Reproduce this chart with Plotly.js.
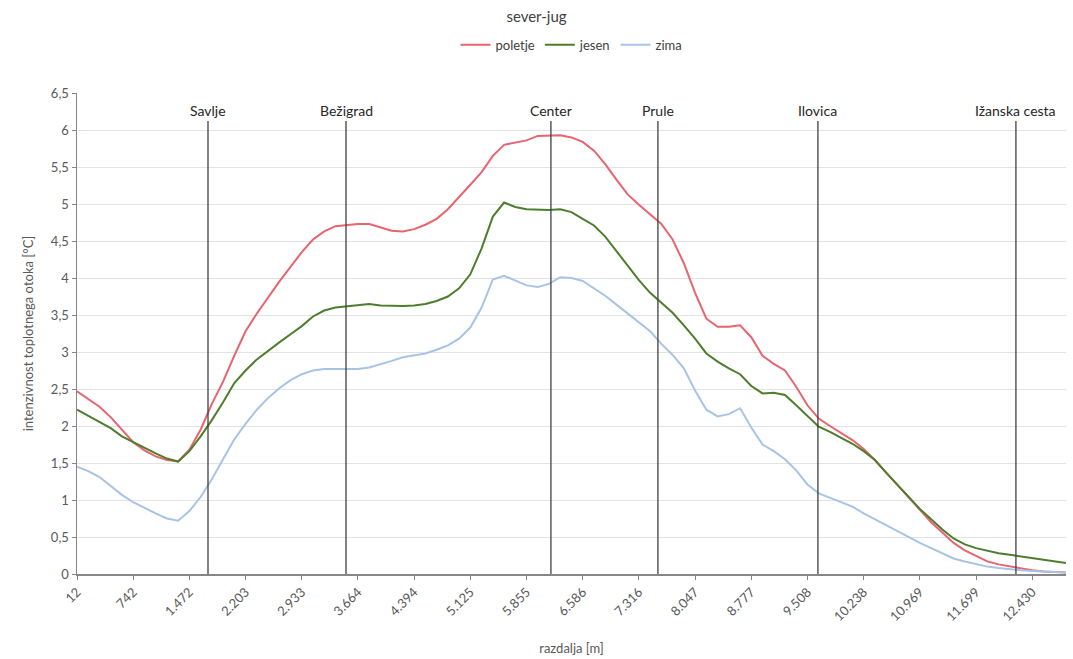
<!DOCTYPE html>
<html>
<head>
<meta charset="utf-8">
<script src="https://cdn.plot.ly/plotly-3.0.1.min.js"></script>
<style>html,body{margin:0;padding:0;background:#fff;}#chart{width:1073px;height:659px;}</style>
</head>
<body>
<div id="chart"></div>
<script>
// distance along the transect [m]
const distance = [12,158,304,450,596,742,889,1035,1181,1327,1473,1619,1765,1911,2057,2203,2350,2496,2642,2788,2934,3080,3226,3372,3518,3664,3811,3957,4103,4249,4395,4541,4687,4833,4979,5125,5272,5418,5564,5710,5856,6002,6148,6294,6440,6586,6733,6879,7025,7171,7317,7463,7609,7755,7901,8047,8194,8340,8486,8632,8778,8924,9070,9216,9362,9508,9655,9801,9947,10093,10239,10385,10531,10677,10823,10969,11116,11262,11408,11554,11700,11846,11992,12138,12284,12430,12577,12723,12869];

const poletje = [2.47,2.37,2.26,2.12,1.95,1.78,1.67,1.59,1.54,1.52,1.68,1.95,2.30,2.60,2.95,3.28,3.52,3.74,3.95,4.15,4.35,4.52,4.63,4.70,4.72,4.73,4.73,4.69,4.64,4.63,4.66,4.72,4.80,4.93,5.09,5.26,5.43,5.65,5.80,5.83,5.86,5.92,5.93,5.93,5.90,5.84,5.72,5.54,5.33,5.13,4.99,4.86,4.73,4.52,4.20,3.80,3.45,3.34,3.34,3.36,3.20,2.95,2.84,2.75,2.53,2.28,2.10,2.00,1.91,1.81,1.69,1.54,1.37,1.20,1.03,0.86,0.70,0.56,0.42,0.32,0.24,0.17,0.13,0.10,0.07,0.05,0.035,0.025,0.02];

const jesen = [2.22,2.14,2.06,1.97,1.86,1.78,1.70,1.63,1.56,1.52,1.66,1.86,2.08,2.32,2.58,2.75,2.90,3.02,3.13,3.24,3.35,3.48,3.56,3.60,3.62,3.64,3.65,3.63,3.62,3.62,3.63,3.65,3.69,3.75,3.86,4.05,4.40,4.83,5.02,4.96,4.93,4.92,4.92,4.93,4.89,4.80,4.71,4.56,4.36,4.17,3.97,3.80,3.67,3.53,3.36,3.18,2.98,2.87,2.78,2.70,2.54,2.44,2.45,2.42,2.28,2.13,1.99,1.92,1.84,1.76,1.66,1.54,1.37,1.21,1.04,0.88,0.74,0.60,0.48,0.40,0.35,0.31,0.28,0.26,0.24,0.21,0.19,0.17,0.15];

const zima = [1.45,1.39,1.31,1.19,1.07,0.97,0.89,0.82,0.75,0.72,0.85,1.04,1.28,1.55,1.82,2.03,2.22,2.38,2.51,2.62,2.70,2.75,2.77,2.77,2.77,2.77,2.79,2.83,2.88,2.93,2.95,2.98,3.03,3.09,3.18,3.33,3.60,3.98,4.03,3.96,3.90,3.88,3.92,4.01,4.00,3.96,3.86,3.76,3.64,3.52,3.41,3.28,3.11,2.96,2.78,2.48,2.22,2.13,2.16,2.24,1.98,1.75,1.66,1.55,1.40,1.21,1.09,1.03,0.97,0.91,0.82,0.74,0.65,0.57,0.49,0.42,0.35,0.28,0.21,0.17,0.13,0.10,0.08,0.06,0.05,0.04,0.03,0.025,0.02];

const tickValues = [12,742,1472,2203,2933,3664,4394,5125,5855,6586,7316,8047,8777,9508,10238,10969,11699,12430];
const tickLabels = ["12","742","1.472","2.203","2.933","3.664","4.394","5.125","5.855","6.586","7.316","8.047","8.777","9.508","10.238","10.969","11.699","12.430"];

const locationNames = ["Savlje","Bežigrad","Center","Prule","Ilovica","Ižanska cesta"];
const locationX = [1715,3509,6173,7564,9644,12218];

const FONT = "Lato, 'Open Sans', sans-serif";

const traces = [
  {x: distance, y: poletje, name: "poletje", type: "scatter", mode: "lines", line: {color: "#e8646e", width: 2}},
  {x: distance, y: jesen, name: "jesen", type: "scatter", mode: "lines", line: {color: "#4e7d2e", width: 2}},
  {x: distance, y: zima, name: "zima", type: "scatter", mode: "lines", line: {color: "#a7c4e6", width: 2}}
];

const shapes = locationX.map(v => ({
  type: "line", xref: "x", yref: "y", x0: v, x1: v, y0: 0, y1: 6.12,
  line: {color: "#404040", width: 1.3}, layer: "above"
}));
const annotations = locationX.map((v, i) => ({
  x: v, y: 6.27, xref: "x", yref: "y", text: locationNames[i], showarrow: false,
  font: {family: FONT, size: 14, color: "#262626"}, xanchor: "center", yanchor: "middle"
}));

const layout = {
  width: 1073, height: 659,
  margin: {l: 77, r: 7, t: 93, b: 85},
  paper_bgcolor: "#ffffff", plot_bgcolor: "#ffffff",
  separators: ",.",
  font: {family: FONT, size: 13, color: "#595959"},
  title: {text: "sever-jug", x: 0.5, xanchor: "center", y: 0.974, yanchor: "middle", font: {family: FONT, size: 15, color: "#404040"}},
  showlegend: true,
  legend: {orientation: "h", x: 0.5, xanchor: "center", y: 1.1, yanchor: "middle", font: {family: FONT, size: 13, color: "#404040"}, bgcolor: "rgba(0,0,0,0)"},
  xaxis: {
    range: [12, 12869], tickmode: "array", tickvals: tickValues, ticktext: tickLabels,
    tickangle: -45, ticks: "outside", ticklen: 4, tickcolor: "#868686",
    showline: true, linecolor: "#868686", linewidth: 1.5, showgrid: false, zeroline: false,
    tickfont: {family: FONT, size: 13, color: "#595959"},
    title: {text: "razdalja [m]", font: {family: FONT, size: 13, color: "#595959"}, standoff: 20}
  },
  yaxis: {
    range: [0, 6.5], dtick: 0.5, tick0: 0, ticks: "outside", ticklen: 4, tickcolor: "#868686",
    showline: true, linecolor: "#868686", linewidth: 1.5, showgrid: true, gridcolor: "#e3e3e3", gridwidth: 1,
    zeroline: false, tickfont: {family: FONT, size: 13, color: "#595959"},
    title: {text: "intenzivnost toplotnega otoka [°C]", font: {family: FONT, size: 13, color: "#595959"}, standoff: 14}
  },
  shapes: shapes,
  annotations: annotations
};

Plotly.newPlot("chart", traces, layout, {displayModeBar: false, staticPlot: true});
</script>
</body>
</html>
